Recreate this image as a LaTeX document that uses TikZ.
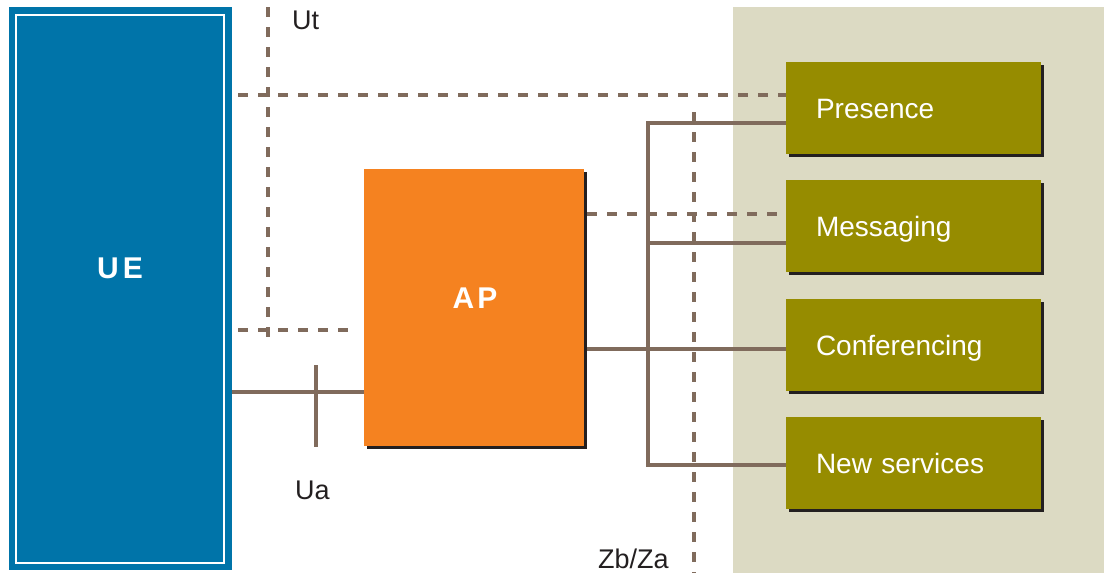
\documentclass[tikz,border=0pt]{standalone}
\usepackage{fontspec}
\setmainfont{Liberation Sans}
\usetikzlibrary{shadows}
\definecolor{uecol}{RGB}{0,116,169}
\definecolor{apcol}{RGB}{245,130,32}
\definecolor{svccol}{RGB}{150,140,0}
\definecolor{zonecol}{RGB}{220,218,195}
\definecolor{wirecol}{RGB}{128,107,92}
\definecolor{inkcol}{RGB}{35,31,32}
\tikzset{
  x=1pt, y=-1pt,
  wire/.style={draw=wirecol, line width=4.4pt, line join=miter},
  refline/.style={draw=wirecol, line width=4.4pt, dash pattern=on 10pt off 10pt},
  boxshadow/.style={drop shadow={shadow xshift=3pt, shadow yshift=-3pt, fill=inkcol, opacity=1}},
  uebox/.style={fill=uecol, draw=none, minimum width=223pt, minimum height=563pt, inner sep=0pt},
  apbox/.style={fill=apcol, draw=none, boxshadow, minimum width=220pt, minimum height=277pt, inner sep=0pt},
  svcbox/.style={fill=svccol, draw=none, boxshadow, minimum width=255pt, minimum height=92pt,
    inner xsep=30pt, inner ysep=0pt, text width=195pt, align=left, text=white,
    font=\fontsize{28}{30}\selectfont, text height=20pt, text depth=0pt},
  title/.style={text=white, font=\fontsize{30}{32}\selectfont\bfseries, inner sep=0pt, anchor=base},
  reflabel/.style={text=inkcol, font=\fontsize{27}{29}\selectfont, inner sep=0pt, anchor=base west},
}
\begin{document}
\begin{tikzpicture}
\useasboundingbox (0,0) rectangle (1110,573);

% service zone
\fill[zonecol] (733,7) rectangle (1104,573);

% user equipment
\node[uebox] (ue) at (120.5,288.5) {};
\draw[white, line width=2pt] ([xshift=7pt,yshift=-8pt]ue.north west) rectangle ([xshift=-8pt,yshift=7pt]ue.south east);
\node[title] (uetext) at (120,278) {U\kern4pt E};

% application proxy
\node[apbox] (ap) at (474,307.5) {};
\node[title] (aptext) at (475,308) {A\kern3pt P};

% services
\node[svcbox] (pres) at (913.5,108) {Presence};
\node[svcbox] (msg)  at (913.5,226) {Messaging};
\node[svcbox] (conf) at (913.5,345) {Conferencing};
\node[svcbox] (new)  at (913.5,463) {New services};

% reference points
\coordinate (uttop) at (268,7);
\coordinate (utbot) at (268,343);
\coordinate (uthl)  at (238,330);
\coordinate (uthr)  at (352,330);
\coordinate (topref) at (238,95);
\coordinate (zbtop) at (694,112);
\coordinate (zbbot) at (694,573);
\coordinate (ua) at (316,392);
\coordinate (uatop) at (316,365);
\coordinate (uabot) at (316,447);
\coordinate (bustop) at (648,123);
\coordinate (busbot) at (648,465);

% dashed reference lines
\draw[refline] (uttop) -- (utbot);
\draw[refline] (uthl) -- (uthr);
\draw[refline] (topref) -- (pres.west |- topref);
\draw[refline] ([xshift=3pt]ap.east |- 0,214) -- (msg.west |- 0,214);
\draw[refline] (zbtop) -- (zbbot);

% solid connections
\draw[wire] (ue.east |- ua) -- (ap.west |- ua);
\draw[wire] (uatop) -- (uabot);
\draw[wire] (pres.west |- bustop) -- (bustop) -- (busbot) -- (new.west |- busbot);
\draw[wire] (bustop |- 0,243) -- (msg.west |- 0,243);
\draw[wire] ([xshift=3pt]ap.east |- 0,349) -- (conf.west |- 0,349);

% labels
\node[reflabel] (utlabel) at (292,29) {Ut};
\node[reflabel] (ualabel) at (295,499) {Ua};
\node[reflabel] (zblabel) at (598,568) {Zb/Za};
\end{tikzpicture}
\end{document}
